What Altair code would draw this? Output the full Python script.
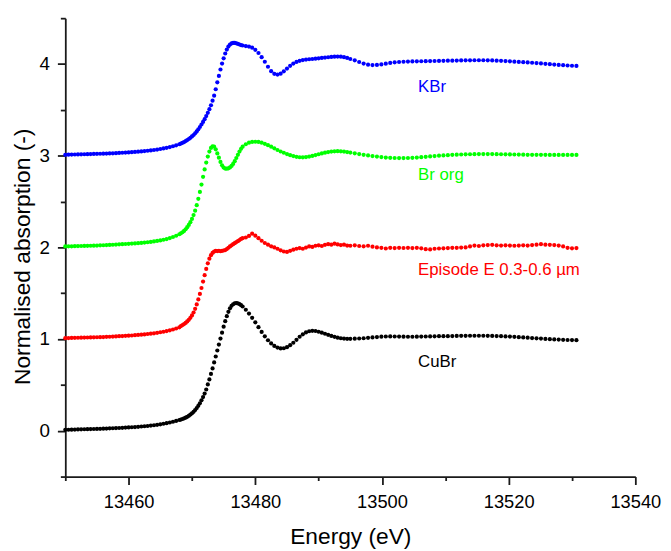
import altair as alt
import pandas as pd

# ---- energy grid (eV) ----
E_PRE = [13450.0, 13450.5, 13451.0, 13451.5, 13452.0, 13452.5, 13453.0, 13453.5, 13454.0, 13454.5,
         13455.0, 13455.5, 13456.0, 13456.5, 13457.0, 13457.5, 13458.0, 13458.5, 13459.0, 13459.5,
         13460.0, 13460.5, 13461.0, 13461.5, 13462.0, 13462.5, 13463.0, 13463.5, 13464.0, 13464.5,
         13465.0, 13465.5, 13466.0, 13466.5, 13467.0, 13467.5, 13468.0]
E_EDGE = [13468.25, 13468.5, 13468.75, 13469.0, 13469.25, 13469.5, 13469.75, 13470.0, 13470.25, 13470.5,
          13470.75, 13471.0, 13471.25, 13471.5, 13471.75, 13472.0, 13472.25, 13472.5, 13472.75, 13473.0,
          13473.25, 13473.5, 13473.75, 13474.0, 13474.25, 13474.5, 13474.75, 13475.0, 13475.25, 13475.5,
          13475.75, 13476.0, 13476.25, 13476.5, 13476.75, 13477.0, 13477.25, 13477.5, 13477.75, 13478.0]
E_POST = [13478.5, 13479.0, 13479.5, 13480.0, 13480.5, 13481.0, 13481.5, 13482.0, 13482.5, 13483.0,
          13483.5, 13484.0, 13484.5, 13485.0, 13485.5, 13486.0, 13486.5, 13487.0, 13487.5, 13488.0,
          13488.5, 13489.0, 13489.5, 13490.0, 13490.5, 13491.0, 13491.5, 13492.0, 13492.5, 13493.0,
          13493.5, 13494.0, 13494.5, 13495.0]
E_TAIL = [13495.7, 13496.4, 13497.1, 13497.8, 13498.5, 13499.2, 13499.9, 13500.6, 13501.3, 13502.0,
          13502.7, 13503.4, 13504.1, 13504.8, 13505.5, 13506.2, 13506.9, 13507.6, 13508.3, 13509.0,
          13509.7, 13510.4, 13511.1, 13511.8, 13512.5, 13513.2, 13513.9, 13514.6, 13515.3, 13516.0,
          13516.7, 13517.4, 13518.1, 13518.8, 13519.5, 13520.2, 13520.9, 13521.6, 13522.3, 13523.0,
          13523.7, 13524.4, 13525.1, 13525.8, 13526.5, 13527.2, 13527.9, 13528.6, 13529.3, 13530.0,
          13530.7]

# ---- CuBr (offset 0) ----
CUBR_PRE = [0.010, 0.011, 0.012, 0.013, 0.014, 0.015, 0.016, 0.017, 0.018, 0.019,
            0.020, 0.021, 0.023, 0.024, 0.026, 0.027, 0.029, 0.030, 0.032, 0.034,
            0.036, 0.038, 0.040, 0.043, 0.046, 0.049, 0.052, 0.056, 0.060, 0.065,
            0.070, 0.076, 0.083, 0.090, 0.098, 0.107, 0.117]
CUBR_EDGE = [0.122, 0.128, 0.135, 0.143, 0.152, 0.163, 0.176, 0.190, 0.206, 0.225,
             0.247, 0.272, 0.300, 0.332, 0.367, 0.405, 0.450, 0.505, 0.560, 0.620,
             0.680, 0.745, 0.810, 0.875, 0.940, 1.005, 1.070, 1.135, 1.195, 1.250,
             1.297, 1.335, 1.362, 1.380, 1.390, 1.393, 1.390, 1.382, 1.370, 1.355]
CUBR_POST = [1.320, 1.278, 1.232, 1.182, 1.130, 1.078, 1.030, 0.987, 0.952, 0.925,
             0.907, 0.898, 0.900, 0.912, 0.933, 0.960, 0.992, 1.025, 1.052, 1.072,
             1.085, 1.090, 1.088, 1.080, 1.070, 1.058, 1.046, 1.034, 1.024, 1.015,
             1.009, 1.005, 1.003, 1.003]
CUBR_TAIL = [1.004, 1.006, 1.009, 1.013, 1.018, 1.022, 1.026, 1.028, 1.029, 1.028,
             1.027, 1.026, 1.025, 1.025, 1.026, 1.027, 1.028, 1.029, 1.030, 1.031,
             1.031, 1.032, 1.033, 1.034, 1.035, 1.035, 1.036, 1.036, 1.036, 1.036,
             1.035, 1.034, 1.033, 1.031, 1.029, 1.027, 1.024, 1.021, 1.018, 1.015,
             1.011, 1.008, 1.005, 1.002, 0.999, 0.996, 0.994, 0.992, 0.990, 0.989,
             0.988]

# ---- Episode E 0.3-0.6 um (offset 1) ----
EPI_PRE = [1.010, 1.011, 1.012, 1.013, 1.014, 1.015, 1.016, 1.017, 1.018, 1.019,
           1.020, 1.021, 1.022, 1.024, 1.025, 1.027, 1.029, 1.031, 1.033, 1.035,
           1.037, 1.039, 1.042, 1.045, 1.048, 1.051, 1.055, 1.059, 1.063, 1.068,
           1.074, 1.080, 1.087, 1.095, 1.104, 1.115, 1.128]
EPI_EDGE = [1.142, 1.152, 1.163, 1.176, 1.192, 1.210, 1.232, 1.258, 1.290, 1.330,
            1.378, 1.432, 1.492, 1.557, 1.627, 1.697, 1.765, 1.826, 1.877, 1.915,
            1.940, 1.954, 1.962, 1.960, 1.963, 1.958, 1.962, 1.966, 1.971, 1.982,
            1.996, 2.010, 2.022, 2.035, 2.046, 2.058, 2.068, 2.080, 2.092, 2.100]
EPI_POST = [2.108, 2.125, 2.150, 2.128, 2.100, 2.072, 2.048, 2.030, 2.012, 2.000,
            1.985, 1.968, 1.955, 1.950, 1.962, 1.975, 1.985, 1.992, 1.985, 1.998,
            2.010, 2.005, 2.018, 2.022, 2.015, 2.028, 2.035, 2.030, 2.040, 2.032,
            2.025, 2.030, 2.020, 2.018]
EPI_TAIL = [2.022, 2.015, 2.012, 2.018, 2.008, 2.000, 1.995, 1.988, 1.995, 1.992,
            1.995, 1.993, 1.995, 1.992, 1.995, 1.990, 1.980, 1.978, 1.985, 1.988,
            1.990, 1.992, 1.995, 1.995, 1.998, 2.000, 2.010, 2.020, 2.015, 2.022,
            2.025, 2.028, 2.022, 2.020, 2.022, 2.020, 2.018, 2.020, 2.022, 2.020,
            2.025, 2.030, 2.035, 2.030, 2.028, 2.025, 2.020, 2.010, 1.995, 1.990,
            1.992]

# ---- Br org (offset 2) ----
BRORG_PRE = [2.010, 2.011, 2.012, 2.013, 2.014, 2.015, 2.016, 2.017, 2.018, 2.019,
             2.020, 2.022, 2.023, 2.025, 2.027, 2.029, 2.031, 2.033, 2.035, 2.037,
             2.039, 2.041, 2.043, 2.046, 2.049, 2.052, 2.056, 2.060, 2.065, 2.070,
             2.076, 2.083, 2.091, 2.101, 2.113, 2.127, 2.143]
BRORG_EDGE = [2.153, 2.165, 2.180, 2.198, 2.220, 2.245, 2.275, 2.310, 2.352, 2.400,
              2.460, 2.530, 2.605, 2.685, 2.770, 2.850, 2.925, 2.990, 3.045, 3.085,
              3.103, 3.098, 3.070, 3.025, 2.978, 2.932, 2.895, 2.870, 2.860, 2.858,
              2.862, 2.872, 2.888, 2.910, 2.940, 2.975, 3.010, 3.045, 3.075, 3.098]
BRORG_POST = [3.125, 3.142, 3.150, 3.152, 3.150, 3.142, 3.130, 3.115, 3.098, 3.080,
              3.062, 3.046, 3.032, 3.018, 3.006, 2.996, 2.988, 2.983, 2.982, 2.985,
              2.990, 2.998, 3.007, 3.016, 3.025, 3.033, 3.040, 3.045, 3.048, 3.049,
              3.048, 3.045, 3.040, 3.034]
BRORG_TAIL = [3.026, 3.018, 3.010, 3.003, 2.996, 2.990, 2.985, 2.980, 2.977, 2.975,
              2.974, 2.974, 2.975, 2.977, 2.980, 2.984, 2.988, 2.992, 2.996, 3.000,
              3.003, 3.006, 3.009, 3.011, 3.013, 3.015, 3.016, 3.017, 3.018, 3.018,
              3.018, 3.018, 3.017, 3.016, 3.015, 3.014, 3.013, 3.012, 3.011, 3.010,
              3.010, 3.009, 3.009, 3.009, 3.008, 3.008, 3.008, 3.008, 3.008, 3.008,
              3.008]

# ---- KBr (offset 3) ----
KBR_PRE = [3.010, 3.011, 3.012, 3.013, 3.014, 3.015, 3.016, 3.017, 3.018, 3.019,
           3.020, 3.021, 3.022, 3.023, 3.025, 3.026, 3.028, 3.030, 3.032, 3.034,
           3.036, 3.038, 3.041, 3.044, 3.047, 3.050, 3.054, 3.058, 3.062, 3.067,
           3.073, 3.079, 3.086, 3.094, 3.103, 3.113, 3.125]
KBR_EDGE = [3.132, 3.140, 3.149, 3.159, 3.170, 3.182, 3.195, 3.210, 3.226, 3.244,
            3.265, 3.288, 3.313, 3.340, 3.368, 3.398, 3.432, 3.468, 3.508, 3.550,
            3.600, 3.655, 3.725, 3.800, 3.870, 3.940, 4.005, 4.062, 4.115, 4.158,
            4.190, 4.212, 4.225, 4.230, 4.230, 4.226, 4.220, 4.213, 4.207, 4.202]
KBR_POST = [4.196, 4.190, 4.178, 4.155, 4.120, 4.075, 4.025, 3.970, 3.922, 3.893,
            3.885, 3.895, 3.920, 3.950, 3.980, 4.005, 4.023, 4.035, 4.043, 4.048,
            4.052, 4.055, 4.058, 4.062, 4.066, 4.070, 4.074, 4.077, 4.080, 4.081,
            4.080, 4.075, 4.066, 4.055]
KBR_TAIL = [4.040, 4.022, 4.005, 3.993, 3.988, 3.990, 3.996, 4.004, 4.012, 4.018,
            4.022, 4.025, 4.027, 4.028, 4.029, 4.030, 4.031, 4.032, 4.033, 4.034,
            4.035, 4.036, 4.037, 4.038, 4.039, 4.040, 4.040, 4.041, 4.041, 4.041,
            4.040, 4.039, 4.037, 4.035, 4.032, 4.029, 4.026, 4.023, 4.020, 4.017,
            4.014, 4.010, 4.006, 4.002, 3.998, 3.994, 3.990, 3.987, 3.984, 3.981,
            3.979]

SERIES = ["KBr", "Br org", "Episode E 0.3-0.6 µm", "CuBr"]
COLORS = ["#0000ff", "#00ff00", "#ff0000", "#000000"]
LABEL_E = [13505.7, 13505.7, 13505.7, 13505.7]
LABEL_Y = [3.70, 2.73, 1.70, 0.70]

X_TICKS = [13450, 13460, 13470, 13480, 13490, 13500, 13510, 13520, 13530, 13540]
Y_TICKS = [-0.5, 0, 0.5, 1, 1.5, 2, 2.5, 3, 3.5, 4, 4.5]

energy = E_PRE + E_EDGE + E_POST + E_TAIL
values = {
    "KBr": KBR_PRE + KBR_EDGE + KBR_POST + KBR_TAIL,
    "Br org": BRORG_PRE + BRORG_EDGE + BRORG_POST + BRORG_TAIL,
    "Episode E 0.3-0.6 µm": EPI_PRE + EPI_EDGE + EPI_POST + EPI_TAIL,
    "CuBr": CUBR_PRE + CUBR_EDGE + CUBR_POST + CUBR_TAIL,
}
rows = []
for name in SERIES:
    v = values[name]
    if len(v) != len(energy):
        raise ValueError(f"{name}: {len(v)} vs {len(energy)}")
    for e, y in zip(energy, v):
        rows.append({"series": name, "energy": e, "absorb": y})
df = pd.DataFrame(rows)
labels = pd.DataFrame({"series": SERIES, "energy": LABEL_E, "absorb": LABEL_Y, "text": SERIES})

FONT = "Liberation Sans"
color = alt.Color("series:N", scale=alt.Scale(domain=SERIES, range=COLORS), legend=None)

x_axis = alt.Axis(
    values=X_TICKS,
    labelExpr="datum.value % 20 === 0 ? format(datum.value, 'd') : ''",
    tickSize={"condition": {"test": "datum.value % 20 !== 0", "value": 4}, "value": 8},
    labelFontSize=18.5, labelFont=FONT, labelColor="#000000", labelPadding=8,
    labelFlush=False, labelOverlap=False,
    title="Energy (eV)", titleFont=FONT, titleFontSize=23, titleFontWeight="normal",
    titleColor="#000000", titleY=68, titleBaseline="alphabetic",
    domainColor="#1a1a1a", domainWidth=1.8, tickColor="#1a1a1a", tickWidth=1.8, grid=False,
)
y_axis = alt.Axis(
    values=Y_TICKS,
    labelExpr="datum.value % 1 === 0 ? format(datum.value, 'd') : ''",
    tickSize={"condition": {"test": "datum.value % 1 !== 0", "value": 5}, "value": 8},
    labelFontSize=19, labelFont=FONT, labelColor="#000000", labelPadding=8,
    labelFlush=False, labelOverlap=False,
    title="Normalised absorption (-)", titleFont=FONT, titleFontSize=23, titleFontWeight="normal",
    titleColor="#000000", titleAngle=270, titleBaseline="alphabetic", titleAlign="center",
    titleX=-36, titleY=241,
    domainColor="#1a1a1a", domainWidth=1.8, tickColor="#1a1a1a", tickWidth=1.8, grid=False,
)

x_enc = alt.X("energy:Q", scale=alt.Scale(domain=[13450, 13540], zero=False, nice=False), axis=x_axis)
y_enc = alt.Y("absorb:Q", scale=alt.Scale(domain=[-0.5, 4.5], zero=False, nice=False), axis=y_axis)

points = alt.Chart(df).mark_circle(size=18, opacity=1).encode(x=x_enc, y=y_enc, color=color)
texts = alt.Chart(labels).mark_text(align="left", baseline="alphabetic", fontSize=17, font=FONT).encode(
    x="energy:Q", y="absorb:Q", text="text:N", color=color
)

chart = alt.layer(points, texts).properties(
    width=577, height=464,
    padding={"left": 58, "top": 7, "right": 28, "bottom": 70},
    autosize=alt.AutoSizeParams(type="none"),
).configure_view(stroke=None)

chart.save("out.html", embed_options={"renderer": "svg", "actions": False})
